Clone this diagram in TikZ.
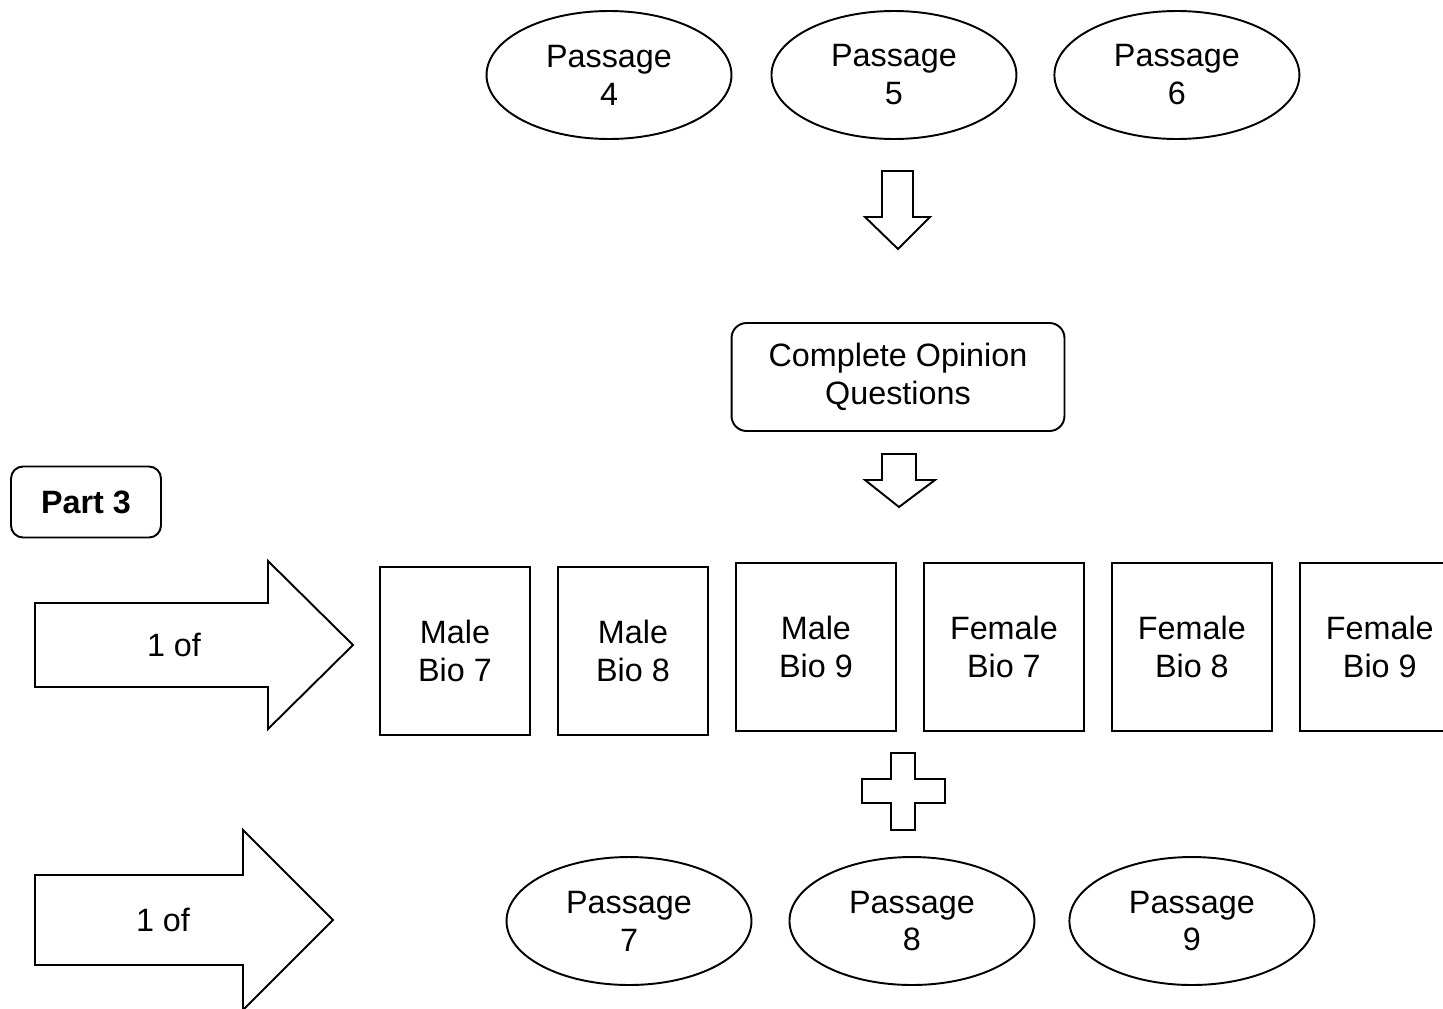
\documentclass[tikz,border=0pt]{standalone}
\usepackage{fontspec}
\setmainfont{Liberation Sans}
\usepackage{tikz}
\usetikzlibrary{shapes.geometric, positioning}
\newcommand{\diagfont}{\fontsize{18.4}{21.6}\selectfont}
\tikzset{
    passage/.style={
        ellipse,
        draw=black,
        line width=1.1pt,
        fill=white,
        outer sep=0pt,
        align=center,
        minimum width=4.9cm,
        minimum height=2.56cm,
        font=\diagfont
    },
    biobox/.style={
        rectangle,
        draw=black,
        line width=1.1pt,
        fill=white,
        outer sep=0pt,
        align=center,
        minimum width=3.2cm,
        minimum height=3.36cm,
        font=\diagfont
    },
    roundbox/.style={
        rectangle,
        rounded corners=0.3cm,
        draw=black,
        line width=1.1pt,
        fill=white,
        align=center,
        font=\diagfont
    },
    blockarrow/.style={
        draw=black,
        line width=1.1pt,
        fill=white,
        line join=miter
    },
    choicetext/.style={
        font=\diagfont
    }
}

\begin{document}
\begin{tikzpicture}[x=0.02cm, y=-0.02cm]
\useasboundingbox (0,0) rectangle (1443,1008);
\clip (0,0) rectangle (1443,1008);
% Passages
\node[passage] (p4) at (609,75) {Passage\\4};
\node[passage, right=0.8cm of p4] (p5) {Passage\\5};
\node[passage, right=0.76cm of p5] (p6) {Passage\\6};
\draw[blockarrow] (882,171) -- (913,171) -- (913,217) -- (930,217) -- (898,249) -- (865,217) -- (882,217) -- cycle;

\node[roundbox, minimum width=6.66cm, minimum height=2.16cm] (opinion) at (898,377) {Complete Opinion\\Questions};
\draw[blockarrow] (882,454) -- (916,454) -- (916,480) -- (935,480) -- (899,507) -- (865,480) -- (882,480) -- cycle;

% Part 3
\node[roundbox, rounded corners=0.24cm, minimum width=3cm, minimum height=1.42cm, font=\diagfont\bfseries] (part3) at (86,502) {Part 3};
\draw[blockarrow] (35,603) -- (268,603) -- (268,561) -- (353,645) -- (268,729) -- (268,687) -- (35,687) -- cycle;
\node[choicetext] (choice1) at (174,645) {1 of};

\node[biobox, minimum width=3cm] (male7) at (455,651) {Male\\Bio 7};
\node[biobox, minimum width=3cm, right=0.56cm of male7] (male8) {Male\\Bio 8};
\node[biobox, right=0.56cm of male8, yshift=0.08cm] (male9) {Male\\Bio 9};
\node[biobox, right=0.56cm of male9] (female7) {Female\\Bio 7};
\node[biobox, right=0.56cm of female7] (female8) {Female\\Bio 8};
\node[biobox, right=0.56cm of female8] (female9) {Female\\Bio 9};

\draw[blockarrow] (891,753) -- (915,753) -- (915,779) -- (945,779) -- (945,803) -- (915,803) -- (915,830) -- (891,830) -- (891,803) -- (862,803) -- (862,779) -- (891,779) -- cycle;

\draw[blockarrow] (35,875) -- (243,875) -- (243,830) -- (333,920) -- (243,1010) -- (243,965) -- (35,965) -- cycle;
\node[choicetext] (choice2) at (163,920) {1 of};

\node[passage] (p7) at (629,921) {Passage\\7};
\node[passage, right=0.76cm of p7] (p8) {Passage\\8};
\node[passage, right=0.7cm of p8] (p9) {Passage\\9};
\end{tikzpicture}
\end{document}
